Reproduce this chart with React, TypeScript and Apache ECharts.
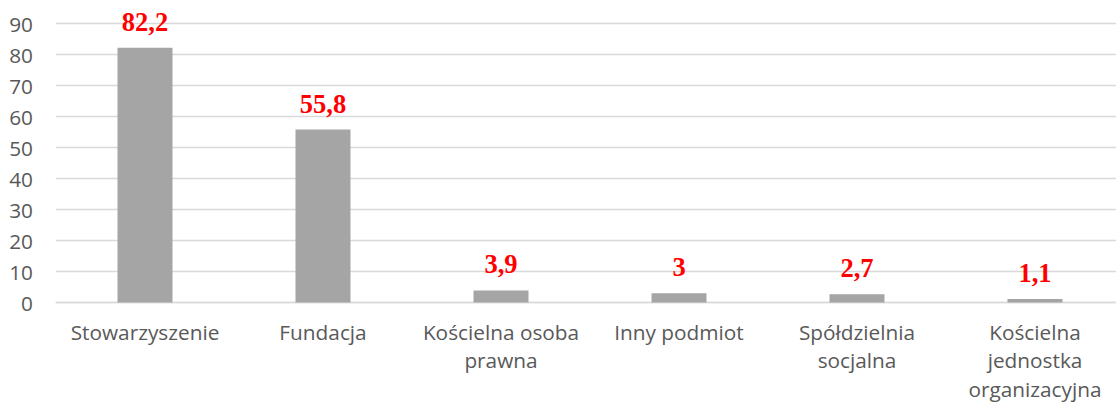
import React, { useEffect, useRef } from "react";
import * as echarts from "echarts";

const categories = [
  "Stowarzyszenie",
  "Fundacja",
  "Kościelna osoba\nprawna",
  "Inny podmiot",
  "Spółdzielnia\nsocjalna",
  "Kościelna\njednostka\norganizacyjna",
];
const values = [82.2, 55.8, 3.9, 3, 2.7, 1.1];
const valueLabels = ["82,2", "55,8", "3,9", "3", "2,7", "1,1"];
const yTicks = { min: 0, max: 90, interval: 10 };

export default function App() {
  const ref = useRef<HTMLDivElement>(null);
  useEffect(() => {
    if (!ref.current) return;
    const chart = echarts.init(ref.current, undefined, { renderer: "svg" });
    chart.setOption({
      animation: false,
      backgroundColor: "#ffffff",
      grid: { left: 56, right: 0, top: 23.5, bottom: 99.7, containLabel: false },
      xAxis: {
        type: "category",
        data: categories,
        axisLine: { lineStyle: { color: "#d9d9d9", width: 1.3 } },
        axisTick: { show: false },
        axisLabel: {
          color: "#595959",
          fontFamily: "Open Sans",
          fontSize: 20.8,
          lineHeight: 28.5,
          margin: 15,
          interval: 0,
        },
      },
      yAxis: {
        type: "value",
        min: yTicks.min,
        max: yTicks.max,
        interval: yTicks.interval,
        axisLine: { show: false },
        axisTick: { show: false },
        splitLine: { lineStyle: { color: "#d9d9d9", width: 1.3 } },
        axisLabel: {
          color: "#595959",
          fontFamily: "Open Sans",
          fontSize: 20.8,
          margin: 23,
        },
      },
      series: [
        {
          type: "bar",
          data: values,
          barWidth: 55,
          itemStyle: { color: "#a5a5a5" },
          label: {
            show: true,
            position: "top",
            distance: 12.5,
            color: "#ff0000",
            fontFamily: "Liberation Serif",
            fontWeight: "bold",
            fontSize: 26.5,
            formatter: (p: any) => valueLabels[p.dataIndex],
          },
        },
      ],
    });
    return () => chart.dispose();
  }, []);
  return (
    <div
      style={{
        position: "fixed",
        left: 0,
        top: 0,
        width: 1116,
        height: 403,
        overflow: "hidden",
        background: "#fff",
      }}
    >
      <div ref={ref} style={{ width: 1124, height: 403 }} />
    </div>
  );
}
